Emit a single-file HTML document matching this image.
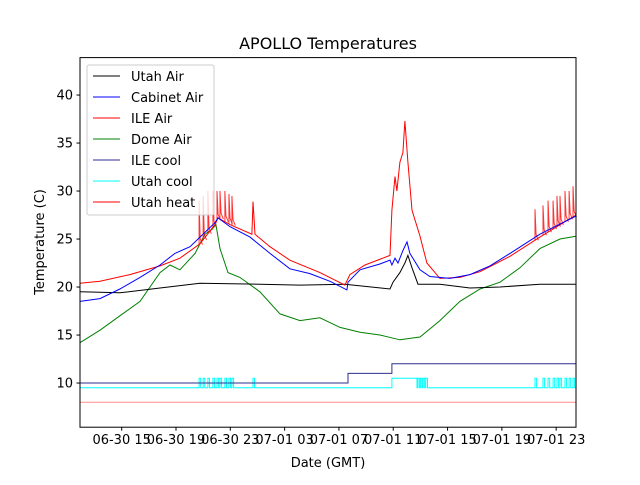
<!DOCTYPE html>
<html><head><meta charset="utf-8"><style>
body{margin:0;background:#fff;}
svg text{font-family:"DejaVu Sans","Liberation Sans",sans-serif;fill:#000;}
</style></head><body>
<svg id="chart" width="640" height="480" xmlns="http://www.w3.org/2000/svg">
<rect width="640" height="480" fill="#fff"/>
<text x="328" y="49" font-size="16" text-anchor="middle">APOLLO Temperatures</text>
<g id="plot"></g>
<rect x="80" y="57.6" width="496" height="369.6" fill="none" stroke="#000" stroke-width="1"/>
<g id="axes"></g>
<text x="328" y="467" font-size="13" text-anchor="middle">Date (GMT)</text>
<text transform="translate(44,242) rotate(-90)" font-size="13" text-anchor="middle">Temperature (C)</text>
<g id="legend"></g>
</svg>
<script>
// hours since 06-30 15:00 GMT
const xTickHours=[0,4,8,12,16,20,24,28,32];
const xTickLabels=["06-30 15","06-30 19","06-30 23","07-01 03","07-01 07","07-01 11","07-01 15","07-01 19","07-01 23"];
const yTicks=[10,15,20,25,30,35,40];
const utahAirH=[-3.07,-0.13,2.82,5.77,10.18,13.13,16.44,19.76,19.98,20.49,20.86,21.08,21.38,21.82,23.44,25.65,27.86,30.8,33.46];
const utahAirV=[19.5,19.4,19.9,20.4,20.3,20.2,20.3,19.8,20.5,21.5,22.5,23.3,22,20.3,20.3,19.9,20.0,20.3,20.3];
const cabAirH=[-3.07,-1.6,-0.13,1.35,2.82,3.92,5.03,5.77,6.87,7.09,7.97,9.45,10.92,12.39,13.87,15.34,16.59,16.67,17.55,19.02,19.76,19.9,20.13,20.35,20.71,21.01,21.23,21.97,22.7,24.17,25.65,27.12,28.6,30.8,33.46];
const cabAirV=[18.5,18.8,19.8,21,22.3,23.5,24.2,25.2,26.7,27.2,26.3,25.2,23.5,21.9,21.4,20.6,19.7,20.5,21.8,22.4,22.8,22.3,23,22.5,23.8,24.7,23.5,21.8,21.1,20.9,21.3,22.2,23.5,25.5,27.4];
const ileAirH=[-3.07,-1.6,0.6,2.82,4.29,5.77,6.87,7.09,7.97,9.59,9.67,9.82,10.92,12.39,14.6,16.44,16.81,17.92,19.76,19.9,20.13,20.27,20.49,20.71,20.86,21.08,21.38,21.97,22.48,23.44,24.91,26.39,28.6,30.8,33.46];
const ileAirV=[20.4,20.6,21.3,22.2,23,24.5,26.5,27.2,26.5,25.5,28.9,25.5,24.2,22.8,21.5,20.2,21.3,22.3,23.3,28,31.5,30,33,34,37.3,33,28,25.3,22.5,20.9,21,21.6,23.2,25.2,27.5];
const heatSpikeH=[5.7,6.0,6.35,6.72,7.02,7.24,7.6,7.9,8.12,30.44,31.03,31.4,31.77,32.06,32.28,32.65,32.95,33.24];
const heatSpikeV=[29,29.5,30,30,30,30,30,29.7,29.5,28.1,28.5,29,29,29.5,29.5,30,30,30.5];
const domeAirH=[-3.07,-1.6,-0.13,1.35,2.82,3.56,4.29,5.41,6.13,6.65,6.94,7.24,7.83,8.71,10.18,11.66,13.13,14.6,16.08,17.55,19.02,20.49,21.97,23.44,24.91,26.39,27.86,29.33,30.8,32.28,33.46];
const domeAirV=[14.2,15.5,17,18.5,21.5,22.3,21.8,23.5,25.5,26,26.5,24,21.5,21,19.5,17.2,16.5,16.8,15.8,15.3,15,14.5,14.8,16.5,18.5,19.8,20.5,22,24,25,25.3];
const ileCoolH=[-3.07,16.67,16.67,19.9,19.9,33.46];
const ileCoolV=[10,10,11,11,12,12];
const coolPulseH=[5.7,6.0,6.35,6.72,7.02,7.24,7.6,7.9,8.12,9.67,21.82,22.0,22.2,22.4,30.44,31.03,31.4,31.77,32.06,32.28,32.65,32.95,33.24];
const utahCoolBase=9.5, utahCoolHigh=10.5, coolOnStart=19.9, coolOnEnd=21.75;
const utahHeatV=8;

const X0=80,X1=576,Y0=57.6,Y1=427.2;
const hMin=-3.07,hMax=33.46,vMin=5.4,vMax=43.9;
const sx=h=>X0+(h-hMin)/(hMax-hMin)*(X1-X0);
const sy=v=>Y1-(v-vMin)/(vMax-vMin)*(Y1-Y0);
const NS="http://www.w3.org/2000/svg";
const plot=document.getElementById('plot');
const axes=document.getElementById('axes');
const legend=document.getElementById('legend');
function mk(tag,attrs,parent){const e=document.createElementNS(NS,tag);for(const k in attrs)e.setAttribute(k,attrs[k]);parent.appendChild(e);return e;}
function line(H,V,color,name,op){
  const d=H.map((h,i)=>(i?'L':'M')+sx(h).toFixed(1)+','+sy(V[i]).toFixed(1)).join('');
  const p=mk('path',{d:d,fill:'none',stroke:color,'stroke-width':1,'stroke-opacity':op||1},plot);
  
  
}
line([hMin,hMax],[utahHeatV,utahHeatV],'#ff0000','utah-heat-line',0.45);
{
  const H=[hMin],V=[utahCoolBase];
  let pts=[];
  for(const p of coolPulseH){pts.push([p,utahCoolBase],[p,utahCoolHigh],[p+0.12,utahCoolHigh],[p+0.12,utahCoolBase]);}
  pts.push([coolOnStart,utahCoolBase],[coolOnStart,utahCoolHigh],[coolOnEnd,utahCoolHigh],[coolOnEnd,utahCoolBase]);
  pts.sort((a,b)=>a[0]-b[0]);
  for(const q of pts){H.push(q[0]);V.push(q[1]);}
  H.push(hMax);V.push(utahCoolBase);
  line(H,V,'#00ffff','utah-cool-line');
}
line(ileCoolH,ileCoolV,'#2f2f8f','ile-cool-line');
line(domeAirH,domeAirV,'#008000','dome-air-line');
line(utahAirH,utahAirV,'#000000','utah-air-line');
line(ileAirH,ileAirV,'#ff0000','ile-air-line');
function interp(H,V,h){for(let i=1;i<H.length;i++){if(h<=H[i]){const t=(h-H[i-1])/(H[i]-H[i-1]);return V[i-1]+t*(V[i]-V[i-1]);}}return V[V.length-1];}
for(let i=0;i<heatSpikeH.length;i++){
  const h=heatSpikeH[i],b=interp(ileAirH,ileAirV,h);
  const p=mk('path',{d:`M${sx(h)},${sy(b)}L${sx(h)},${sy(heatSpikeV[i])}L${sx(h+0.08)},${sy(b+0.6)}L${sx(h+0.25)},${sy(b)}`,fill:'none',stroke:'#ff0000','stroke-width':1,'stroke-opacity':0.8},plot);
  
  
}
line(cabAirH,cabAirV,'#0000ff','cabinet-air-line');
xTickHours.forEach((h,i)=>{
  const x=sx(h);
  const t=mk('line',{x1:x,x2:x,y1:Y1,y2:Y1+3.5,stroke:'#000'},axes);
  
  
  const l=mk('text',{x:x,y:Y1+17,'font-size':13,'text-anchor':'middle'},axes);
  l.textContent=xTickLabels[i];
  
  
});
yTicks.forEach(v=>{
  const y=sy(v);
  const t=mk('line',{x1:X0-3.5,x2:X0,y1:y,y2:y,stroke:'#000'},axes);
  
  
  const l=mk('text',{x:X0-7,y:y+4.5,'font-size':13,'text-anchor':'end'},axes);
  l.textContent=v;
  
  
});
const legNames=["Utah Air","Cabinet Air","ILE Air","Dome Air","ILE cool","Utah cool","Utah heat"];
const legColors=["#000000","#0000ff","#ff0000","#008000","#2f2f8f","#00ffff","#ff0000"];
const box=mk('rect',{x:87,y:65,width:127,height:150,rx:2,fill:'#fff','fill-opacity':0.8,stroke:'#ccc'},legend);


legNames.forEach((n,i)=>{
  const y=76+i*21;
  const g=mk('g',{},legend);
  
  
  mk('line',{x1:93,x2:120,y1:y,y2:y,stroke:legColors[i],'stroke-width':1},g);
  const t=mk('text',{x:131,y:y+5,'font-size':13},g);
  t.textContent=n;
});
</script>
</body></html>
